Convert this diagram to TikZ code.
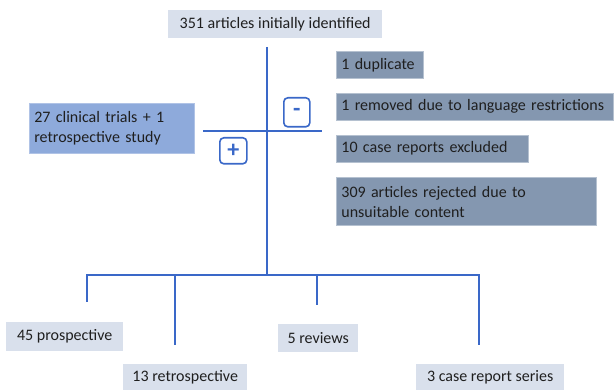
\documentclass[tikz,border=0pt]{standalone}
\usepackage{fontspec}
\setmainfont{Carlito}
\usetikzlibrary{positioning,calc}
\definecolor{linkblue}{HTML}{3A68C8}
\definecolor{palebox}{HTML}{D9E0EC}
\definecolor{midbox}{HTML}{8EAADB}
\definecolor{slatebox}{HTML}{8497B0}

\begin{document}
\begin{tikzpicture}[x=1pt,y=-1pt,
	box/.style={rectangle, inner xsep=5pt, inner ysep=0pt, anchor=north west, align=left, text=black!88, font=\fontsize{16}{20.5}\selectfont},
	pale/.style={box, fill=palebox, align=center},
	mid/.style={box, fill=midbox, draw=midbox!70!white, line width=.6pt},
	slate/.style={box, fill=slatebox, draw=slatebox!60!white, line width=.8pt},
	link/.style={draw=linkblue, line width=2.4pt},
	sign/.style={draw=linkblue, fill=white, line width=1.6pt, rounded corners=4pt, text=linkblue, inner sep=0pt, anchor=north west, font=\bfseries\fontsize{24}{24}\selectfont}]
	\useasboundingbox (0,0) rectangle (614,390);
	%
	\node[pale, minimum width=214pt, minimum height=28pt] (total) at (168,10) {351 articles initially identified};
	\node[mid, minimum height=50pt, text width=155pt] (added) at (29,103) {27 clinical trials + 1\\retrospective study};
	\node[slate, minimum height=27pt, text width=77pt] (dup) at (336,51) {1 duplicate};
	\node[slate, minimum height=27pt, inner xsep=3pt, text width=271pt, below=14pt of dup.south west, anchor=north west] (lang) {\hspace{2pt}1 removed due to language restrictions};
	\node[slate, minimum height=27pt, text width=182pt, below=14pt of lang.south west, anchor=north west] (case) {10 case reports excluded};
	\node[slate, minimum height=48pt, text width=250pt, below=15pt of case.south west, anchor=north west] (reject) {309 articles rejected due to\\unsuitable content};
	%
	\node[pale, minimum width=117pt, minimum height=29pt] (prosp) at (6,322) {45 prospective};
	\node[pale, minimum width=124pt, minimum height=26pt] (retro) at (123,364) {13 retrospective};
	\node[pale, minimum width=80pt, minimum height=28pt] (reviews) at (278,324) {5 reviews};
	\node[pale, minimum width=148pt, minimum height=26pt] (series) at (416,364) {3 case report series};
	%
	\coordinate (stem) at (267,47);
	\coordinate (hub) at (267,275);
	\coordinate (crossL) at (203,131);
	\coordinate (crossR) at (322,131);
	\coordinate (legA) at (87,302);
	\coordinate (legB) at (175,345);
	\coordinate (legC) at (317,305);
	\coordinate (legD) at (479,345);
	%
	\draw[link] (stem) -- (hub);
	\draw[link] (crossL) -- (crossR);
	\draw[link] (legA) |- (hub) -| (legD);
	\draw[link] (legB) -- (legB |- hub);
	\draw[link] (legC) -- (legC |- hub);
	%
	\node[sign, minimum width=26pt, minimum height=29pt] (minus) at (283,97) {-};
	\node[sign, minimum width=27pt, minimum height=26pt] (plus) at (219,137) {+};
\end{tikzpicture}
\end{document}
